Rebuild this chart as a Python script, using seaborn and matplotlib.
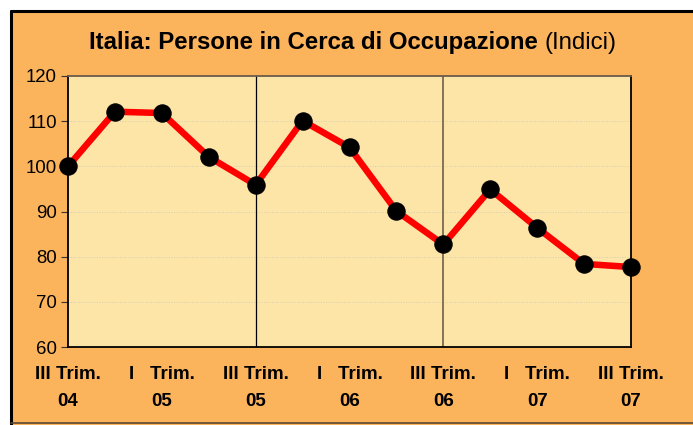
import numpy as np
import pandas as pd
import matplotlib
matplotlib.use('Agg')
import matplotlib.pyplot as plt
from matplotlib.lines import Line2D
import seaborn as sns

# dati (indici)
trimestri = ['III 04', 'IV 04', 'I 05', 'II 05', 'III 05', 'IV 05', 'I 06',
             'II 06', 'III 06', 'IV 06', 'I 07', 'II 07', 'III 07']
indici = [100.0, 112.1, 111.8, 102.1, 95.9, 110.1, 104.2,
          90.1, 82.7, 94.9, 86.4, 78.4, 77.7]
tick_pos = [0, 2, 4, 6, 8, 10, 12]
tick_labels = ['III Trim.\n04', 'I   Trim.\n05', 'III Trim.\n05', 'I   Trim.\n06',
               'III Trim.\n06', 'I   Trim.\n07', 'III Trim.\n07']
separatori = [4, 8]

df = pd.DataFrame({'pos': np.arange(len(trimestri)), 'trimestre': trimestri, 'indice': indici})

sns.set_style('white')
plt.rcParams['font.family'] = ['Liberation Sans', 'DejaVu Sans']
plt.rcParams['text.color'] = 'black'
plt.rcParams['xtick.color'] = 'black'
plt.rcParams['ytick.color'] = 'black'

ORANGE = '#FCB45C'
PLOT_BG = '#FDE5A8'

fig = plt.figure(figsize=(6.93, 4.25), dpi=100)
fig.patch.set_facecolor(ORANGE)
# bordo bianco in alto e a sinistra
fig.add_artist(plt.Rectangle((0, 0), 9.5 / 693, 1, transform=fig.transFigure, color='white', zorder=-1))
fig.add_artist(plt.Rectangle((0, 1 - 10.5 / 425), 1, 10.5 / 425, transform=fig.transFigure, color='white', zorder=-1))
fig.add_artist(Line2D([10.5 / 693, 10.5 / 693], [1.5 / 425, 1 - 11 / 425], transform=fig.transFigure, color='black', lw=2.2))
fig.add_artist(Line2D([10.5 / 693, 1], [1 - 11 / 425, 1 - 11 / 425], transform=fig.transFigure, color='black', lw=2.2))
fig.add_artist(Line2D([10.5 / 693, 1], [2 / 425, 2 / 425], transform=fig.transFigure, color='#5a4630', lw=1.2))

ax = fig.add_axes([68 / 693, 1 - 347 / 425, 563 / 693, 271 / 425])
ax.set_facecolor(PLOT_BG)

sns.lineplot(data=df, x='pos', y='indice', ax=ax, color='#FF0000', linewidth=4.7,
             marker='o', markersize=12.5, markerfacecolor='black', markeredgecolor='black',
             zorder=5, clip_on=False)

for s in separatori:
    ax.axvline(s, color='black' if s == 4 else '#7a6a50', lw=0.9 if s == 4 else 1.3, zorder=2)

ax.set_xlim(0, 12)
ax.set_ylim(60, 120)
ax.set_yticks(np.arange(60, 121, 10))
ax.yaxis.grid(True, color='#d6cdb4', linestyle=':', linewidth=0.7)
ax.set_axisbelow(True)
ax.set_xticks(tick_pos)
ax.set_xticklabels(tick_labels, fontweight='bold', fontsize=13.5, linespacing=1.75)
ax.tick_params(axis='x', length=0, pad=14)
ax.tick_params(axis='y', length=5, width=0.8, color='#333333', labelsize=13.4, pad=3, left=True)
ax.set_xlabel('')
ax.set_ylabel('')
for side in ['left', 'bottom', 'right']:
    ax.spines[side].set_color('black')
    ax.spines[side].set_linewidth(1.3)
ax.spines['top'].set_color('#6b5d4a')
ax.spines['top'].set_linewidth(1.3)

fig.text(538 / 693, 1 - 43 / 425, 'Italia: Persone in Cerca di Occupazione', ha='right', va='center',
         fontsize=17.3, fontweight='bold')
fig.text(545 / 693, 1 - 43 / 425, '(Indici)', ha='left', va='center', fontsize=17.3)

fig.savefig('out.png', dpi=100, facecolor=fig.get_facecolor())
